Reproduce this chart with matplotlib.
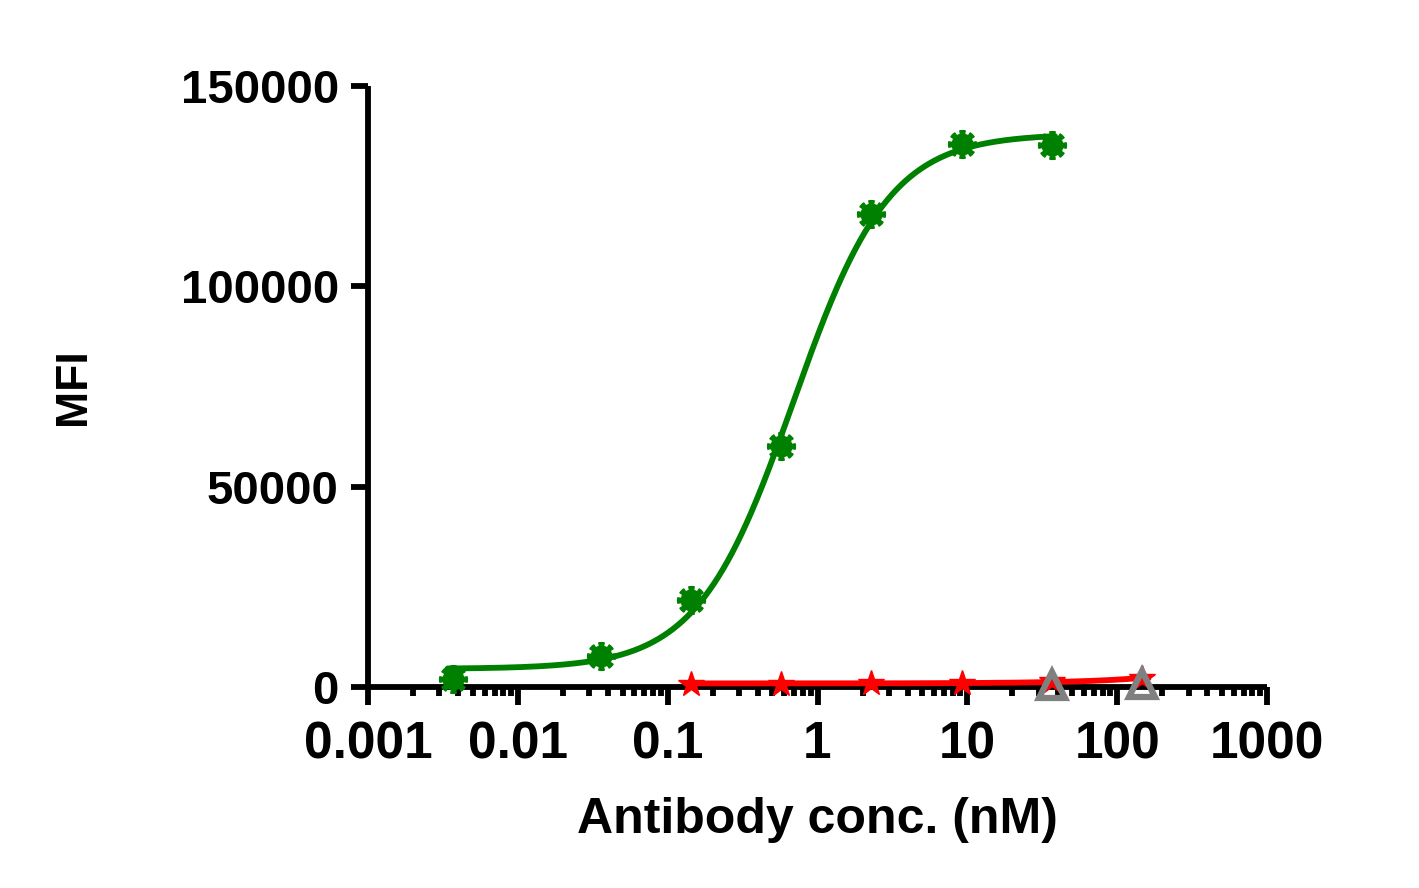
import numpy as np
import matplotlib
matplotlib.use("Agg")
import matplotlib.pyplot as plt
from matplotlib.path import Path
from matplotlib.ticker import FixedLocator, LogLocator, NullFormatter

# ---- data ----
green_conc = [0.0037, 0.0357, 0.143, 0.571, 2.29, 9.15, 36.6]
green_mfi = [2000, 7700, 21700, 60200, 118000, 135500, 135300]

red_conc = [0.143, 0.571, 2.29, 9.15, 36.6, 146]
red_mfi = [700, 800, 900, 1100, 1500, 2200]

gray_conc = [36.6, 146]
gray_mfi = [500, 800]

x_ticks = [0.001, 0.01, 0.1, 1, 10, 100, 1000]
x_ticklabels = ["0.001", "0.01", "0.1", "1", "10", "100", "1000"]
y_ticks = [0, 50000, 100000, 150000]
y_ticklabels = ["0", "50000", "100000", "150000"]


def fit_4pl(x, y):
    x = np.asarray(x, float)
    y = np.asarray(y, float)
    best = None
    for lec in np.linspace(-2, 1, 301):
        for h in np.linspace(0.5, 3, 126):
            s = 1.0 / (1.0 + (10 ** lec / x) ** h)
            A = np.column_stack([1 - s, s])
            coef, *_ = np.linalg.lstsq(A, y, rcond=None)
            r = np.sum((A @ coef - y) ** 2)
            if best is None or r < best[0]:
                best = (r, coef[0], coef[1], 10 ** lec, h)
    _, b, t, ec, h = best
    return lambda xx: b + (t - b) / (1 + (ec / xx) ** h)


def gear_marker(n=8, r_out=1.0, r_in=0.74):
    verts = []
    step = np.pi / n
    for k in range(2 * n):
        a0 = k * step - step / 2
        a1 = a0 + step
        r = r_out if k % 2 == 0 else r_in
        for a in np.linspace(a0, a1, 4):
            verts.append((r * np.cos(a), r * np.sin(a)))
    verts.append(verts[0])
    codes = [Path.MOVETO] + [Path.LINETO] * (len(verts) - 2) + [Path.CLOSEPOLY]
    return Path(verts, codes)


plt.rcParams['font.family'] = ['Liberation Sans', 'DejaVu Sans']
plt.rcParams['font.weight'] = 'bold'

fig = plt.figure(figsize=(14.19, 8.88), dpi=100)
ax = fig.add_axes([368 / 1419, 1 - 687 / 888, (1267 - 368) / 1419, (687 - 86) / 888])

green_color = '#008000'
red_color = '#ff0000'
gray_color = '#808080'

gfit = fit_4pl(green_conc, green_mfi)
xg = np.logspace(np.log10(min(green_conc) * 0.92), np.log10(max(green_conc) * 1.05), 400)
ax.plot(xg, gfit(xg), color=green_color, lw=4.2, solid_capstyle='round', zorder=3)
ax.plot(green_conc, green_mfi, linestyle='none', marker=gear_marker(), markersize=20,
        color=green_color, markeredgecolor=green_color, markeredgewidth=1.0, clip_on=False, zorder=4)

coef = np.polyfit(red_conc, red_mfi, 1)
xr = np.logspace(np.log10(min(red_conc)), np.log10(max(red_conc) * 1.1), 300)
ax.plot(xr, np.polyval(coef, xr), color=red_color, lw=4.2, clip_on=False, zorder=3)
ax.plot(red_conc, red_mfi, linestyle='none', marker='*', markersize=19,
        color=red_color, clip_on=False, zorder=4)

ax.plot(gray_conc, gray_mfi, linestyle='none', marker='^', markersize=19,
        markerfacecolor='none', markeredgecolor=gray_color, markeredgewidth=4.5,
        clip_on=False, zorder=5)

ax.set_xscale('log')
ax.set_xlim(0.001, 1000)
ax.set_ylim(0, 150000)

for s in ['top', 'right']:
    ax.spines[s].set_visible(False)
for s in ['left', 'bottom']:
    ax.spines[s].set_linewidth(4.2)
    ax.spines[s].set_capstyle('butt')

ax.xaxis.set_major_locator(FixedLocator(x_ticks))
ax.set_xticklabels(x_ticklabels)
ax.xaxis.set_minor_locator(LogLocator(base=10, subs=np.arange(2, 10), numticks=20))
ax.xaxis.set_minor_formatter(NullFormatter())
ax.set_yticks(y_ticks)
ax.set_yticklabels(y_ticklabels)

ax.tick_params(axis='x', which='major', direction='out', length=13, width=4.2, pad=11, labelsize=37)
ax.tick_params(axis='x', which='minor', direction='out', length=6.5, width=4.2)
ax.tick_params(axis='y', which='major', direction='out', length=12, width=4.2, pad=9, labelsize=34)

for lab in ax.get_xticklabels() + ax.get_yticklabels():
    lab.set_fontweight('bold')

ax.set_xlabel('Antibody conc. (nM)', fontsize=36, fontweight='bold', labelpad=20)
ax.set_ylabel('MFI', fontsize=32, fontweight='bold', labelpad=62)

fig.savefig('out.png', dpi=100)
